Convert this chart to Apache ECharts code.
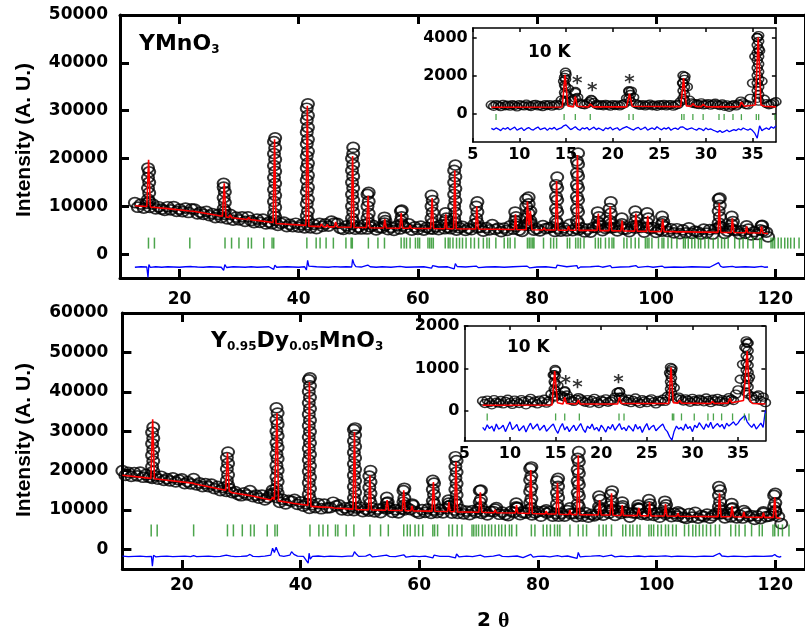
<!DOCTYPE html>
<html>
<head>
<meta charset="utf-8">
<script src="https://cdn.jsdelivr.net/npm/echarts@6/dist/echarts.min.js"></script>
<style>html,body{margin:0;padding:0;background:#fff}#chart{width:805px;height:636px}</style>
</head>
<body>
<div id="chart"></div>
<script>
// ---- YMnO3 (top panel) ----
var topStart = 12.5, topStep = 0.5; // 2theta grid of the observed band
var topObs = [
  10750, 9800, 10450, 9600, 10600, 9750, 10450, 9450, 9900, 9400,
  9150, 9900, 9250, 9950, 8950, 9400, 8900, 9600, 8700, 9450,
  9400, 8400, 8800, 8300, 8950, 8050, 8450, 7650, 8300, 7650,
  8300, 7350, 8300, 7100, 7750, 7150, 7800, 6850, 7800, 7000,
  6600, 7300, 6650, 7300, 6300, 6700, 6350, 7050, 6000, 6450,
  6700, 5750, 6200, 5750, 6450, 5650, 6150, 5500, 6100, 5500,
  6200, 5350, 6400, 5800, 6300, 5850, 6900, 6500, 6400, 5400,
  5150, 5900, 5350, 6150, 5200, 5650, 5250, 6150, 5250, 5700,
  6000, 5050, 5550, 5500, 5950, 5100, 5600, 4950, 5900, 5250,
  5900, 5550, 6300, 5000, 5700, 5150, 5850, 5000, 5600, 5300,
  5200, 5700, 5100, 6100, 5300, 5600, 5300, 5850, 5000, 5500,
  5800, 4950, 5400, 5100, 6250, 5550, 5600, 4800, 5550, 5050,
  6150, 5150, 5450, 4700, 5450, 4950, 5900, 5200, 5800, 5000,
  4750, 6100, 5950, 6400, 5000, 5300, 4850, 5950, 5350, 5500,
  5700, 4750, 5400, 4800, 5500, 4850, 6200, 4900, 5400, 5050,
  5500, 4650, 5200, 4600, 5600, 5550, 6400, 4900, 5400, 5600,
  5500, 5600, 4850, 5900, 5200, 5200, 4700, 5750, 5450, 5700,
  5600, 4600, 5600, 5300, 5550, 4550, 5100, 4800, 5700, 4700,
  5300, 4450, 5300, 4300, 5050, 4450, 5500, 4350, 4800, 4650,
  4200, 5200, 4400, 5100, 4200, 5300, 5500, 5650, 4350, 4800,
  5400, 5000, 4900, 4250, 4900, 4350, 5200, 4000, 4700, 4100,
  5050, 4850, 4600
];
// columns of circles on the peak flanks: [2theta, intensities...]
var topPeakCols = [
  [14.7, 11500, 13800, 16000, 18000], [14.9, 17200, 15000, 12800, 11000],
  [27.4, 9500, 11800, 14000, 14800], [27.6, 13000, 10800, 9000],
  [35.85, 8500, 11000, 13500, 16000, 18500, 21000, 23500], [36.05, 24300, 22200, 19800, 17300, 14800, 12300, 9800, 7800],
  [41.35, 8000, 10500, 13000, 15500, 18000, 20500, 23000, 25500, 28000, 30500], [41.55, 31400, 29000, 26500, 24000, 21500, 19000, 16500, 14000, 11500, 9000, 7000],
  [48.95, 7500, 10000, 12500, 15000, 17500, 20000], [49.15, 22300, 21000, 18700, 16300, 13800, 11300, 8800, 6800],
  [51.55, 7500, 10000, 12500], [51.75, 12900, 11000, 8500, 6500],
  [54.4, 6500, 7700], [54.55, 7000],
  [57.15, 7000, 9000], [57.3, 9200, 7800, 6300],
  [62.3, 7500, 10000, 12300], [62.5, 11200, 8700, 6500],
  [64.65, 7000, 8600], [64.8, 7500, 6200],
  [66.1, 7500, 10000, 12500, 15000, 17500], [66.3, 18600, 16200, 13700, 11200, 8700, 6500],
  [69.8, 7500, 10000], [70.0, 10900, 8800, 6600],
  [76.35, 7000, 8800], [76.5, 7800, 6300],
  [78.2, 7500, 10000, 11500], [78.6, 11900, 10500, 8500, 6500], [78.9, 9000, 7000],
  [83.2, 7000, 9500, 12000, 14500], [83.4, 16100, 13800, 11300, 8800, 6500],
  [86.7, 7000, 9500, 12000, 14500, 17000, 19500], [86.9, 21100, 18800, 16300, 13800, 11300, 8800, 6500],
  [90.2, 6800, 8800], [90.4, 7800, 6000],
  [92.2, 7000, 9500], [92.4, 10900, 8500, 6300],
  [94.25, 6300, 7500],
  [96.5, 6800, 9000], [96.7, 7800, 6000],
  [98.5, 6600, 8600], [98.7, 7500],
  [101.0, 6300, 7900], [101.2, 6800],
  [110.5, 6500, 9000, 11500], [110.7, 11700, 10200, 7800, 5800],
  [112.7, 6200, 7900], [112.9, 6800],
  [115.2, 5900], [117.7, 5900], [117.8, 6000], [118.8, 3600]
];
var topCalc = [
  [12.5,10100],[14.5,9950],[14.8,19700],[15.1,9850],[18,9500],[21.7,9000],[22,9300],[22.3,8950],[27.2,7900],[27.5,14800],[27.8,7750],
  [28.3,7650],[28.5,8200],[28.8,7600],[31.4,7250],[31.6,7700],[31.9,7200],[35.7,6600],[35.95,24000],[36.2,6400],[41.2,6000],[41.45,31000],[41.7,5850],
  [43.6,5750],[43.8,6300],[44.1,5750],[44.6,5700],[44.8,6200],[45.0,5700],[46.0,5700],[46.2,6700],[46.5,5650],[48.8,5600],[49.05,20500],[49.3,5550],
  [51.4,5550],[51.65,12200],[51.9,5500],[54.25,5450],[54.45,7300],[54.7,5450],[57.0,5400],[57.2,8600],[57.45,5400],[58.5,5400],[58.7,6000],[58.9,5400],
  [62.15,5350],[62.4,11700],[62.65,5350],[64.5,5300],[64.7,8300],[64.9,5300],[66.0,5300],[66.2,17500],[66.45,5300],[69.7,5250],[69.9,10000],[70.15,5250],
  [72.5,5200],[72.7,5600],[72.9,5200],[76.2,5150],[76.4,8300],[76.6,5150],[78.2,5100],[78.4,11000],[78.65,6000],[78.9,9000],[79.15,5100],
  [81.0,5050],[81.2,5500],[81.4,5050],[83.1,5050],[83.3,15300],[83.55,5000],[85.1,5000],[85.3,5800],[85.5,5000],[86.6,5000],[86.8,20700],[87.05,4950],
  [90.1,4950],[90.3,8500],[90.55,4900],[92.1,4900],[92.3,10000],[92.55,4900],[94.1,4850],[94.3,7000],[94.5,4850],[96.4,4800],[96.6,8500],[96.85,4800],
  [98.4,4750],[98.6,8000],[98.85,4750],[100.9,4700],[101.1,7300],[101.35,4700],[103.0,4700],[103.2,5100],[103.4,4650],[105.3,4650],[105.5,5000],[105.7,4650],
  [106.8,4600],[107.0,4900],[107.2,4600],[108.0,4600],[108.2,5000],[108.4,4600],[110.4,4550],[110.6,10600],[110.85,4550],[112.6,4500],[112.8,7500],[113.05,4500],
  [115.0,4450],[115.2,5800],[115.4,4450],[117.5,4400],[117.7,5800],[117.95,4350],[118.8,4300]
];
var topDiff = [
  [12.5,-2750],[13.5,-2650],[14.5,-2700],[14.7,-4900],[14.85,-2200],[15.1,-2800],[16,-2650],[17,-2750],[18,-2650],[19,-2700],[20,-2750],[21,-2650],
  [22,-2600],[22.3,-2800],[23,-2700],[24,-2750],[25,-2650],[26,-2700],[27,-2750],[27.4,-3400],[27.6,-2200],[27.9,-2800],[29,-2650],[30,-2700],[31,-2750],
  [32,-2650],[33,-2750],[34,-2700],[35,-2650],[35.8,-3200],[36.0,-2300],[36.3,-2750],[37,-2700],[38,-2650],[39,-2700],[40,-2750],[41.0,-2650],[41.3,-3300],
  [41.5,-1300],[41.7,-2500],[42,-2700],[43,-2650],[44,-2700],[45,-2750],[46,-2600],[47,-2700],[48,-2650],[48.9,-2700],[49.05,-1100],[49.3,-2100],[49.6,-2600],
  [50.5,-2700],[51.6,-2300],[52,-2650],[53,-2750],[54,-2650],[55.5,-2750],[57,-2550],[58,-2750],[59.5,-2700],[61,-2650],[62.3,-2950],[62.5,-2400],[63.5,-2700],
  [65,-2650],[66.1,-3100],[66.3,-2000],[66.6,-2600],[68,-2700],[69.8,-2500],[70.2,-2850],[71.5,-2700],[73,-2650],[74.5,-2750],[76,-2650],[78.3,-2500],[78.8,-2900],
  [80,-2700],[81.5,-2650],[83.2,-2900],[83.4,-2300],[83.7,-2700],[85,-2650],[86.7,-2400],[86.9,-3000],[87.3,-2700],[89,-2650],[90.3,-2500],[91,-2750],[92.3,-2400],
  [92.6,-2850],[94,-2700],[95.5,-2650],[96.6,-2400],[97,-2800],[98.6,-2550],[99.5,-2750],[101,-2500],[101.4,-2800],[103,-2700],[104.5,-2750],[106,-2650],
  [107.5,-2700],[109,-2750],[110.5,-1800],[110.8,-2500],[111.2,-2750],[112.8,-2550],[113.3,-2750],[115,-2650],[116.5,-2750],[117.7,-2550],[118.2,-2750],[118.8,-2700]
];
var topBraggLevel = 2300;
var topBragg = [
  14.78, 15.78, 21.72, 27.63, 28.73, 29.97, 31.52, 32.07, 34.14, 35.53, 35.81, 41.37, 42.93, 43.59, 44.6, 45.82, 47.93, 48.8, 49.0, 51.7,
  53.3, 54.4, 57.2, 57.7, 58.1, 58.7, 59.6, 60.0, 60.3, 61.7, 62.0, 62.3, 62.6, 64.6, 65.1, 65.4, 65.9, 66.5, 67.0, 67.5,
  68.1, 68.9, 69.5, 70.2, 71.0, 71.6, 72.0, 73.1, 74.5, 75.1, 75.5, 76.3, 78.4, 78.7, 79.0, 79.3, 79.5, 81.1, 82.3, 82.8,
  83.3, 85.1, 85.5, 86.5, 86.9, 87.3, 87.9, 89.8, 90.3, 90.7, 91.5, 92.1, 92.6, 92.9, 94.6, 95.1, 95.8, 96.5, 97.1, 98.2,
  98.5, 98.8, 99.3, 100.4, 101.0, 101.3, 102.0, 102.6, 103.5, 104.6, 104.9, 105.4, 106.0, 106.5, 107.1, 107.5, 108.2, 108.8, 109.6, 110.4,
  111.0, 111.5, 112.1, 113.2, 114.0, 114.6, 115.4, 116.3, 117.4, 117.7, 119.3, 119.6, 119.9, 120.5, 121.0, 121.6, 122.1, 122.6, 123.2, 124.0
];

// ---- Y0.95Dy0.05MnO3 (bottom panel) ----
var botStart = 10, botStep = 0.5;
var botObs = [
  19950, 18800, 19550, 18500, 19500, 18650, 19600, 18300, 19000, 18300,
  18000, 18650, 17800, 18550, 17500, 17950, 17350, 18150, 17100, 17650,
  17900, 16700, 17200, 16600, 17950, 16350, 16850, 15900, 16650, 15900,
  16550, 15400, 15950, 14900, 15650, 14700, 15400, 14400, 14650, 13900,
  13600, 14350, 13800, 14900, 13400, 13750, 13000, 13750, 12550, 13150,
  14100, 14300, 13150, 11900, 12650, 11550, 12450, 12200, 12650, 11400,
  12050, 10950, 11550, 10400, 11350, 10600, 11600, 10300, 11450, 10500,
  10600, 11950, 11000, 11300, 10000, 10550, 9900, 10750, 9850, 10450,
  10700, 9550, 10150, 9700, 10550, 9500, 10200, 9300, 10550, 10200,
  10450, 9400, 10050, 9250, 10250, 10000, 10500, 10100, 11150, 9500,
  9150, 10050, 9400, 10250, 9150, 9950, 9300, 10150, 9250, 10350,
  11000, 9200, 9950, 9150, 10050, 9000, 9700, 8800, 9850, 9300,
  10250, 9150, 9650, 8750, 9650, 9600, 10600, 8900, 9450, 8800,
  8550, 9650, 9400, 10600, 8800, 9350, 9200, 10050, 8750, 9250,
  9550, 8400, 9650, 9200, 9550, 8450, 9100, 8400, 9150, 8450,
  9850, 9050, 9050, 8300, 9150, 8400, 9300, 8150, 8850, 8500,
  8900, 9950, 8700, 9800, 9200, 9950, 8600, 9750, 9150, 9550,
  9400, 8200, 9250, 9200, 10250, 8850, 9150, 8700, 10050, 8600,
  9250, 8150, 9350, 8900, 9250, 8300, 9100, 8400, 9150, 8100,
  7850, 9050, 8200, 9400, 7900, 8550, 8300, 8950, 7900, 8550,
  9100, 9000, 9050, 8000, 8900, 8250, 9450, 8000, 8650, 7950,
  9250, 8350, 8550, 7600, 8500, 7800, 9200, 8300, 8450, 8900,
  9500, 8300, 6500
];
var botPeakCols = [
  [15.0, 21000, 23900, 26800, 29700], [15.2, 31000, 28200, 25300, 22400, 19800],
  [27.6, 17500, 20400, 23300], [27.8, 24700, 21800, 18900, 16300],
  [35.3, 15000, 13800],
  [35.95, 15500, 18400, 21300, 24200, 27100, 30000, 32900, 35900], [36.15, 34600, 31700, 28800, 25900, 23000, 20100, 17200, 14300],
  [41.4, 14000, 16900, 19800, 22700, 25600, 28500, 31400, 34300, 37200, 40100, 43000], [41.6, 43500, 41500, 38600, 35700, 32800, 29900, 27000, 24100, 21200, 18300, 15400, 12800],
  [49.0, 13000, 15900, 18800, 21700, 24600, 27500, 30400], [49.2, 30800, 29000, 26100, 23200, 20300, 17400, 14500, 12000],
  [51.6, 12800, 15700, 18600], [51.8, 20000, 17100, 14200, 11800],
  [54.55, 11800, 13200], [54.7, 12000, 10800],
  [57.35, 12000, 14900], [57.5, 15500, 13000, 11200],
  [58.8, 11500],
  [62.3, 12300, 15200, 17500], [62.5, 16800, 13900, 11500],
  [64.95, 11700, 12500], [65.1, 11000],
  [66.1, 12300, 15200, 18100, 21000, 23500], [66.3, 22500, 19600, 16700, 13800, 11500],
  [70.2, 12000, 14900], [70.4, 15000, 12700, 10800],
  [72.8, 10200],
  [76.35, 10800, 11700], [76.5, 10500],
  [78.7, 11800, 14700, 17600, 20500], [78.9, 20900, 18600, 15700, 12800, 10500],
  [81.4, 10000],
  [83.2, 11500, 14400, 17300], [83.4, 18000, 16000, 13100, 10600],
  [85.4, 10500],
  [86.7, 11500, 14400, 17300, 20200, 23100], [86.9, 24800, 22200, 19300, 16400, 13500, 10800],
  [90.3, 10800, 13500], [90.5, 12600, 10300],
  [92.3, 11000, 13900], [92.5, 14800, 12200, 10200],
  [94.2, 10500, 12000], [94.3, 11000],
  [96.9, 10500, 11200], [97.1, 10300],
  [98.7, 10800, 12600], [98.9, 11500, 10000],
  [101.4, 10600, 12200], [101.6, 11300],
  [103.6, 9500],
  [110.5, 10800, 13700, 15900], [110.7, 15000, 12100, 10000],
  [112.65, 10300, 11600], [112.8, 10500],
  [114.7, 9800], [118.0, 9500],
  [119.8, 10800, 13700], [120.0, 14200, 11800, 9800]
];
var botCalc = [
  [10,18800],[14.8,18000],[15.1,33000],[15.4,17900],[21.8,16800],[22.0,17300],[22.3,16600],[27.4,15000],[27.7,24500],[28.0,14800],[28.4,14400],[28.6,14700],
  [28.8,14300],[31.3,13700],[31.5,14100],[31.7,13600],[35.0,12500],[35.3,13200],[35.6,12600],[35.8,12700],[36.05,34600],[36.3,12300],[38.3,11800],[38.5,12200],
  [38.7,11700],[41.25,11200],[41.5,42500],[41.75,10900],[43.6,10700],[43.8,11100],[44.0,10700],[45.3,10600],[45.5,11000],[45.7,10500],[48.85,10200],[49.1,29800],
  [49.35,10100],[51.45,10000],[51.7,18800],[51.95,10000],[54.35,9900],[54.6,12500],[54.85,9900],[57.15,9850],[57.4,15000],[57.65,9800],[58.6,9800],[58.8,11000],
  [59.0,9750],[62.15,9700],[62.4,17100],[62.65,9650],[64.8,9600],[65.0,12000],[65.2,9600],[65.95,9550],[66.2,22200],[66.45,9500],[70.05,9400],[70.3,14500],
  [70.55,9400],[72.6,9300],[72.8,10000],[73.0,9300],[76.2,9200],[76.4,11200],[76.6,9200],[78.55,9100],[78.8,20100],[79.05,9100],[81.2,9000],[81.4,9700],
  [81.6,9000],[83.05,8950],[83.3,16900],[83.55,8900],[85.2,8850],[85.4,10000],[85.6,8850],[86.55,8800],[86.8,23900],[87.05,8800],[90.15,8700],[90.4,12500],
  [90.65,8700],[92.15,8700],[92.4,14200],[92.65,8650],[94.0,8600],[94.2,11200],[94.4,8600],[96.75,8550],[97.0,10500],[97.25,8550],[98.6,8500],[98.8,12000],
  [99.05,8500],[101.3,8450],[101.5,11500],[101.75,8450],[103.4,8400],[103.6,9200],[103.8,8400],[110.35,8300],[110.6,14200],[110.85,8300],[112.5,8250],
  [112.7,11000],[112.95,8250],[114.5,8200],[114.7,9500],[114.9,8200],[117.8,8100],[118.0,9300],[118.2,8100],[119.65,8100],[119.9,13200],[120.15,8050],[120.9,7900]
];
var botDiff = [
  [10,-1750],[11,-1850],[12,-1800],[13,-1750],[14,-1850],[14.9,-1800],[15.05,-4300],[15.25,-1500],[15.6,-1900],[16.5,-1800],[17.5,-1750],[18.5,-1850],
  [19.5,-1800],[20.5,-1750],[21.5,-1850],[22.0,-1600],[22.5,-1850],[23.5,-1800],[24.5,-1750],[25.5,-1850],[26.5,-1800],[27.5,-1500],[27.8,-2000],[28.3,-1750],
  [29,-1850],[30,-1800],[31,-1700],[31.5,-1300],[32,-1800],[33,-1850],[34,-1750],[35.0,-1500],[35.3,300],[35.6,-800],[35.9,500],[36.2,-600],[36.5,-1600],
  [37.2,-1800],[38.2,-1500],[38.5,-600],[38.9,-1300],[39.5,-1750],[40.5,-1800],[41.3,-3500],[41.45,-1000],[41.65,-2500],[42,-1800],[43,-1700],[44,-1850],
  [45,-1750],[46,-1800],[47,-1850],[48,-1750],[48.8,-1700],[49.1,-600],[49.4,-1200],[49.8,-1800],[51,-1750],[51.7,-1300],[52.1,-1900],[53,-1800],[54.5,-1500],
  [55,-1800],[56,-1850],[57.4,-1400],[57.8,-2000],[59,-1750],[60,-1850],[61,-1750],[62.3,-2200],[62.5,-1500],[63.5,-1800],[65,-1800],[66.1,-2200],[66.3,-1200],
  [66.7,-1900],[68,-1750],[69,-1850],[70.3,-1500],[71,-1900],[72.5,-1750],[73.5,-1400],[74,-1800],[75,-1850],[76.5,-1700],[77.5,-2100],[78.8,-1300],[79.2,-2000],
  [80,-1800],[81,-1750],[82,-1900],[83.3,-1600],[84,-1850],[85,-1700],[86.6,-2300],[86.8,-800],[87.1,-1900],[88,-1800],[89,-1750],[90.4,-1600],[91,-1850],
  [92.4,-1500],[93,-1900],[94,-1750],[95,-1850],[96,-1800],[97,-1700],[98,-1850],[99,-1750],[100,-1800],[101.5,-1650],[102.5,-1850],[103.5,-1750],[105,-1800],
  [106.5,-1850],[108,-1750],[109.5,-1800],[110.6,-1000],[111,-1700],[112,-1850],[113,-1750],[114,-1800],[115,-1850],[116.5,-1750],[118,-1800],[119.5,-1700],
  [119.9,-1300],[120.3,-1800],[120.7,-2000],[121,-1800]
];
var botBraggLevel = 4800;
var botBragg = [
  14.85, 15.86, 22.0, 27.7, 28.7, 30.2, 31.6, 32.2, 34.4, 35.7, 36.1, 41.6, 43.1, 43.8, 44.6, 45.9, 46.3, 47.7, 49.0, 51.7,
  53.5, 54.8, 57.4, 58.0, 58.5, 59.3, 59.9, 60.6, 62.3, 62.6, 63.1, 65.0, 65.6, 66.4, 67.2, 68.9, 69.2, 69.6, 70.0, 70.6,
  71.1, 71.7, 72.2, 72.8, 73.4, 73.9, 74.5, 75.2, 75.6, 76.4, 78.9, 79.5, 80.9, 81.5, 82.1, 82.8, 83.3, 83.7, 85.4, 86.8,
  87.6, 88.2, 90.3, 91.0, 91.5, 92.4, 94.3, 94.8, 95.5, 96.0, 96.7, 97.2, 98.7, 99.1, 99.5, 100.2, 100.8, 101.5, 102.0, 102.7,
  103.3, 104.7, 105.4, 106.1, 106.6, 107.2, 107.8, 108.4, 109.1, 109.9, 110.6, 112.5, 113.3, 113.9, 114.9, 116.0, 117.3, 117.8, 119.6, 119.9,
  120.5, 121.2, 122.3
];

// ---- 10 K insets ----
var insetStart = 7, insetStep = 0.25;
var insTopObs = [
  450, 380, 470, 420, 360, 480, 410, 440,
  390, 460, 420, 350, 470, 430, 400, 490,
  410, 370, 450, 480, 400, 430, 360, 460,
  420, 470, 390, 440, 480, 420, 700, 1700,
  2050, 1300, 650, 720, 1100, 850, 550, 480,
  460, 520, 620, 700, 580, 470, 430, 460,
  410, 480, 440, 390, 470, 420, 450, 400,
  460, 520, 800, 1150, 1180, 850, 520, 450,
  430, 470, 400, 450, 490, 410, 440, 380,
  460, 420, 480, 400, 450, 470, 390, 440,
  480, 620, 1600, 1950, 1400, 700, 560, 520,
  500, 470, 560, 450, 480, 520, 440, 490,
  540, 460, 420, 500, 380, 450, 330, 420,
  470, 400, 500, 650, 560, 470, 450, 800,
  1600, 3000, 4000, 3300, 1700, 750, 520, 460,
  500, 560, 620
];
var insTopPeakCols = [
  [14.85, 700, 1100, 1500, 1900], [14.95, 2170, 1800, 1400, 1000, 650],
  [16.0, 800, 1160], [17.7, 740],
  [21.75, 800, 1200], [21.9, 1000, 650],
  [27.55, 800, 1200, 1600, 2000], [27.7, 1800, 1400, 1000, 700],
  [35.5, 800, 1200, 1600, 2000, 2400, 2800, 3200, 3600, 4000], [35.65, 4100, 3800, 3400, 3000, 2600, 2200, 1800, 1400, 1000, 650]
];
var insTopCalc = [
  [7,330],[14.6,340],[14.9,2040],[15.2,400],[15.8,350],[16.0,900],[16.2,380],[17.4,340],[17.6,500],[17.9,350],[21.5,350],[21.8,1040],[22.1,380],
  [27.3,360],[27.6,1860],[27.9,400],[28.4,380],[28.6,520],[28.9,370],[29.5,360],[29.7,480],[30.0,360],[31.1,350],[31.3,450],[31.6,360],[32.0,350],
  [32.2,450],[32.5,350],[33.6,360],[33.8,600],[34.1,380],[35.3,450],[35.6,4010],[35.9,450],[36.3,380],[37.5,350]
];
var insTopDiff = [
  -780, -850, -760, -820, -900, -770, -830, -740,
  -860, -790, -720, -880, -810, -760, -900, -800,
  -740, -830, -870, -780, -710, -850, -800, -760,
  -890, -770, -820, -730, -860, -800, -760, -650,
  -600, -720, -850, -780, -700, -820, -880, -760,
  -810, -740, -870, -790, -720, -850, -770, -830,
  -900, -760, -810, -720, -860, -790, -750, -880,
  -800, -740, -690, -760, -820, -870, -780, -730,
  -850, -790, -720, -880, -810, -760, -840, -700,
  -790, -860, -760, -820, -730, -880, -800, -770,
  -840, -720, -700, -780, -850, -790, -760, -830,
  -880, -780, -820, -900, -760, -850, -810, -870,
  -920, -980, -900, -1000, -940, -870, -960, -900,
  -850, -900, -800, -870, -760, -830, -880, -800,
  -900, -1050, -1300, -650, -900, -820, -760, -840,
  -700, -780, -650
];
var insTopBraggLevel = -190;
var insTopBragg = [7.5, 14.8, 16.0, 17.6, 21.75, 22.2, 27.4, 27.65, 28.6, 29.7, 31.4, 31.95, 32.9, 33.8, 35.4, 35.65, 37.4];
var insTopStars = [[16.2, 1560], [17.8, 1200], [21.8, 1610]];

var insBotObs = [
  240, 180, 260, 200, 150, 270, 210, 190,
  250, 170, 230, 280, 200, 160, 260, 220,
  180, 270, 230, 150, 250, 300, 200, 240,
  170, 260, 220, 280, 190, 240, 400, 850,
  950, 600, 380, 350, 460, 380, 300, 250,
  230, 280, 320, 290, 240, 210, 270, 190,
  250, 300, 220, 180, 260, 230, 290, 210,
  240, 270, 330, 440, 450, 330, 260, 230,
  280, 200, 250, 310, 220, 180, 270, 240,
  200, 260, 290, 220, 170, 250, 230, 280,
  230, 350, 900, 1000, 550, 300, 330, 280,
  240, 290, 260, 210, 300, 250, 230, 280,
  260, 220, 310, 250, 200, 280, 240, 300,
  230, 270, 210, 260, 320, 280, 250, 400,
  500, 750, 1100, 1500, 1600, 800, 350, 280,
  350, 380, 250, 330, 200
];
var insBotPeakCols = [
  [14.85, 350, 520, 690, 860], [14.95, 980, 820, 650, 480, 330],
  [16.0, 330, 480], [22.0, 330, 460],
  [27.6, 350, 520, 690, 860, 1030], [27.7, 950, 780, 610, 440],
  [35.9, 450, 620, 790, 960, 1130, 1300, 1470, 1650], [36.1, 1600, 1420, 1250, 1080, 910, 740, 570, 400]
];
var insBotCalc = [
  [7,140],[14.6,145],[14.9,940],[15.2,200],[15.8,170],[16.0,330],[16.2,180],[17.3,170],[17.5,260],[17.7,170],[21.8,170],[22.0,330],[22.2,180],
  [27.4,180],[27.65,1030],[27.9,200],[28.4,190],[28.6,260],[28.8,190],[32.0,180],[32.2,230],[32.4,180],[33.9,190],[34.1,300],[34.3,200],
  [35.6,250],[36.0,1410],[36.3,250],[36.6,180],[38,170]
];
var insBotDiff = [
  -380, -450, -320, -410, -350, -470, -300, -420,
  -390, -330, -480, -360, -250, -430, -380, -310,
  -460, -400, -340, -490, -370, -280, -420, -360,
  -300, -450, -390, -330, -470, -410, -350, -300,
  -430, -520, -380, -290, -440, -360, -480, -400,
  -330, -460, -370, -290, -420, -500, -350, -410,
  -300, -440, -380, -470, -330, -400, -490, -360,
  -420, -310, -450, -370, -290, -430, -380, -460,
  -340, -400, -470, -310, -420, -360, -500, -380,
  -290, -440, -370, -330, -460, -400, -350, -300,
  -420, -480, -600, -680, -470, -350, -420, -380,
  -450, -300, -410, -360, -480, -330, -390, -270,
  -350, -430, -300, -380, -260, -410, -340, -290,
  -370, -310, -420, -280, -350, -300, -250, -330,
  -280, -200, -150, -100, -250, -320, -380, -300,
  -420, -350, -280, -380, 20
];
var insBotBraggLevel = -135;
var insBotBragg = [7.5, 15.0, 16.0, 17.6, 21.95, 22.5, 27.8, 27.95, 28.8, 30.2, 31.7, 32.3, 33.2, 34.4, 35.7, 36.2, 38.0];
var insBotStars = [[16.1, 650], [17.4, 540], [21.9, 670]];

// tick labels
var mainXTicks = [20, 40, 60, 80, 100, 120];
var topYTicks = [0, 10000, 20000, 30000, 40000, 50000];
var botYTicks = [0, 10000, 20000, 30000, 40000, 50000, 60000];
var insXTicks = [5, 10, 15, 20, 25, 30, 35];
var insTopYTicks = [0, 2000, 4000];
var insBotYTicks = [0, 1000, 2000];

var FONT = 'DejaVu Sans';

function onGrid(start, step, ys) {
  return ys.map(function (y, i) { return [Math.round((start + i * step) * 100) / 100, y]; });
}
function columns(cols) {
  var pts = [];
  cols.forEach(function (c) {
    for (var k = 1; k < c.length; k++) pts.push([c[0], c[k]]);
  });
  return pts;
}
function atLevel(xs, level) {
  return xs.map(function (x) { return [x, level]; });
}

function axis(gi, pos, min, max, ticks, lw, tl, margin, fs) {
  var a = {
    gridIndex: gi, type: 'value', position: pos, min: min, max: max,
    splitLine: {show: false},
    axisLine: {onZero: false, lineStyle: {color: '#000', width: lw}},
    axisTick: {inside: true, length: tl, customValues: ticks, lineStyle: {color: '#000', width: lw}},
    axisLabel: {show: false}
  };
  if (margin != null) {
    a.axisLabel = {customValues: ticks, margin: margin, color: '#000',
      fontFamily: FONT, fontWeight: 'bold', fontSize: fs,
      formatter: function (v) { return String(v); }};
  }
  return a;
}

function panelSeries(xi, obs, calc, diff, bragg, sizes) {
  return [
    {type: 'scatter', xAxisIndex: xi, yAxisIndex: xi, data: obs, symbol: 'circle',
     symbolSize: sizes.circle, z: 2,
     itemStyle: {color: 'rgba(0,0,0,0)', borderColor: '#000', borderWidth: sizes.border}},
    {type: 'line', xAxisIndex: xi, yAxisIndex: xi, data: calc, showSymbol: false, z: 3,
     lineStyle: {color: '#ff0000', width: 1.6}},
    {type: 'line', xAxisIndex: xi, yAxisIndex: xi, data: diff, showSymbol: false, z: 3,
     lineStyle: {color: '#0000ff', width: 1.3}},
    {type: 'scatter', xAxisIndex: xi, yAxisIndex: xi, data: bragg, symbol: 'rect',
     symbolSize: sizes.tick, z: 3, itemStyle: {color: '#1f8f1f'}}
  ];
}

function stars(xi, pts) {
  return {type: 'scatter', xAxisIndex: xi, yAxisIndex: xi, data: pts, symbolSize: 1, z: 5,
    itemStyle: {color: 'rgba(0,0,0,0)'},
    label: {show: true, position: 'inside', formatter: '*', color: '#000',
      fontFamily: FONT, fontWeight: 'bold', fontSize: 20}};
}

var sub = {fontFamily: FONT, fontWeight: 'bold', fontSize: 12, lineHeight: 12, verticalAlign: 'bottom', padding: [19, 0, 0, 0], color: '#000'};
var big = {fontFamily: FONT, fontWeight: 'bold', fontSize: 22, lineHeight: 23, verticalAlign: 'top', color: '#000'};

var chart = echarts.init(document.getElementById('chart'));
chart.setOption({
  animation: false,
  backgroundColor: '#fff',
  grid: [
    {left: 120, top: 15, width: 689, height: 263},
    {left: 122.4, top: 313, width: 685.4, height: 256},
    {left: 472.7, top: 28, width: 303.2, height: 114},
    {left: 464.4, top: 326, width: 301, height: 115}
  ],
  xAxis: [
    axis(0, 'bottom', 10, 125, mainXTicks, 3, 9, 13, 17),
    axis(1, 'bottom', 10, 125, mainXTicks, 3, 9, 8, 17),
    axis(2, 'bottom', 5, 37.5, insXTicks, 1.5, 4, 5, 16),
    axis(3, 'bottom', 5, 38, insXTicks, 1.5, 4, 5, 16),
    axis(0, 'top', 10, 125, mainXTicks, 3, 9),
    axis(1, 'top', 10, 125, mainXTicks, 3, 9),
    axis(2, 'top', 5, 37.5, insXTicks, 1.5, 4),
    axis(3, 'top', 5, 38, insXTicks, 1.5, 4)
  ],
  yAxis: [
    axis(0, 'left', -5000, 50000, topYTicks, 3, 9, 12, 17),
    axis(1, 'left', -5000, 60000, botYTicks, 3, 9, 14, 17),
    axis(2, 'left', -1500, 4500, insTopYTicks, 1.5, 4, 5, 16),
    axis(3, 'left', -700, 2000, insBotYTicks, 1.5, 4, 5, 16),
    axis(0, 'right', -5000, 50000, topYTicks, 3, 9),
    axis(1, 'right', -5000, 60000, botYTicks, 3, 9),
    axis(2, 'right', -1500, 4500, insTopYTicks, 1.5, 4),
    axis(3, 'right', -700, 2000, insBotYTicks, 1.5, 4)
  ],
  title: [
    {text: '{b|YMnO}{s|3}', left: 139, top: 33, padding: 0, textStyle: {rich: {b: big, s: sub}}},
    {text: '{b|Y}{s|0.95}{b|Dy}{s|0.05}{b|MnO}{s|3}', left: 211, top: 330, padding: 0, textStyle: {rich: {b: big, s: sub}}},
    {text: '10 K', left: 528, top: 44, padding: 0, textStyle: {fontFamily: FONT, fontWeight: 'bold', fontSize: 17, color: '#000'}},
    {text: '10 K', left: 507, top: 339, padding: 0, textStyle: {fontFamily: FONT, fontWeight: 'bold', fontSize: 17, color: '#000'}},
    {text: '{n|2 }{t|θ}', left: 477, top: 610, padding: 0, textStyle: {rich: {
      n: {fontFamily: FONT, fontWeight: 'bold', fontSize: 20, color: '#000'},
      t: {fontFamily: 'Liberation Serif', fontSize: 22, color: '#000'}}}}
  ],
  graphic: [
    {type: 'text', x: 24, y: 140, rotation: Math.PI / 2,
     style: {text: 'Intensity (A. U.)', font: 'bold 21px "Liberation Sans"', fill: '#000', textAlign: 'center', textVerticalAlign: 'middle'}},
    {type: 'text', x: 24, y: 440, rotation: Math.PI / 2,
     style: {text: 'Intensity (A. U.)', font: 'bold 21px "Liberation Sans"', fill: '#000', textAlign: 'center', textVerticalAlign: 'middle'}}
  ],
  series: [].concat(
    panelSeries(0, onGrid(topStart, topStep, topObs).concat(columns(topPeakCols)), topCalc, topDiff,
      atLevel(topBragg, topBraggLevel), {circle: [12, 10], border: 1.9, tick: [1.5, 11]}),
    panelSeries(1, onGrid(botStart, botStep, botObs).concat(columns(botPeakCols)), botCalc, botDiff,
      atLevel(botBragg, botBraggLevel), {circle: [12, 10], border: 1.9, tick: [1.5, 12]}),
    panelSeries(2, onGrid(insetStart, insetStep, insTopObs).concat(columns(insTopPeakCols)), insTopCalc,
      onGrid(insetStart, insetStep, insTopDiff), atLevel(insTopBragg, insTopBraggLevel), {circle: [10, 8], border: 1.5, tick: [1.3, 6]}),
    panelSeries(3, onGrid(insetStart, insetStep, insBotObs).concat(columns(insBotPeakCols)), insBotCalc,
      onGrid(insetStart, insetStep, insBotDiff), atLevel(insBotBragg, insBotBraggLevel), {circle: [10, 8], border: 1.5, tick: [1.3, 7]}),
    [stars(2, insTopStars), stars(3, insBotStars)]
  )
});
</script>
</body>
</html>
